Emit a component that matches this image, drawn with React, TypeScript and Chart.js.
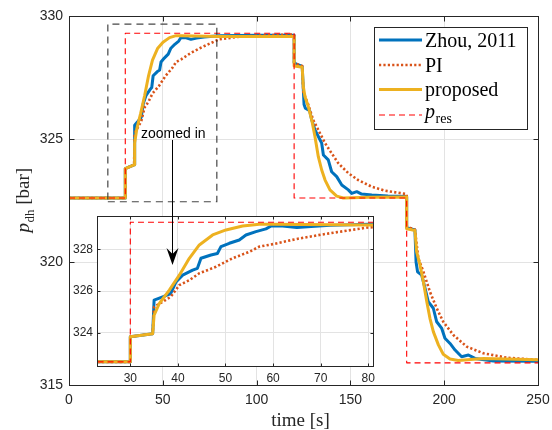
import React, { useEffect, useRef } from 'react';
import { Chart, registerables } from 'chart.js';

Chart.register(...registerables);

// ---------------- data ----------------
const zhouTime = [0, 30, 30, 34.7, 35, 36.8, 38.5, 39.6, 41.0, 43.1, 44.1, 44.85, 46.95, 48.3, 49.05, 50.8, 52.9, 54.3, 56.4, 58.5, 59.6, 62, 65, 68, 72, 80, 100, 120, 120, 122, 124.3, 125.3, 126, 128.3, 129.4, 131.1, 132.9, 134.7, 135.6, 138.2, 140, 142.7, 145.4, 148.9, 150.7, 153.4, 156, 161.4, 170, 180, 180, 182, 184.4, 185, 185.8, 188, 189.8, 191.5, 194.2, 196, 198.7, 200.4, 203.1, 205.8, 209.3, 212.9, 216.4, 226.2, 250];
const zhouPressure = [322.6, 322.6, 323.8, 323.95, 325.56, 325.72, 325.88, 326.44, 326.76, 327.0, 327.09, 327.57, 327.73, 327.8, 328.13, 328.29, 328.45, 328.69, 328.85, 328.98, 329.12, 329.12, 329.05, 329.1, 329.15, 329.2, 329.22, 329.22, 328.1, 328.02, 327.95, 326.4, 326.25, 326.15, 325.77, 325.37, 325.1, 324.83, 324.35, 324.15, 323.67, 323.47, 323.13, 322.93, 322.79, 322.86, 322.76, 322.72, 322.68, 322.66, 321.4, 321.35, 321.3, 320.0, 319.6, 319.47, 318.93, 318.39, 318.12, 317.57, 317.3, 316.9, 316.69, 316.42, 316.15, 316.22, 316.08, 315.98, 315.97];

const piTime = [0, 30, 30, 34.7, 35, 36.8, 38.5, 40.3, 42.4, 44.5, 48, 51.5, 55, 57.1, 60, 65, 70, 75, 80, 90, 100, 120, 120, 122, 124.3, 124.9, 127.6, 130.2, 132.9, 136.5, 140, 143.6, 148.9, 154.2, 161.4, 168.4, 180, 180, 182, 184.4, 186.2, 188.9, 192.4, 196, 199.5, 204.9, 212, 220.9, 233.3, 250];
const piPressure = [322.6, 322.6, 323.8, 323.95, 325.24, 325.48, 325.72, 326.28, 326.52, 326.85, 327.16, 327.57, 327.88, 328.13, 328.25, 328.5, 328.7, 328.88, 329.05, 329.15, 329.2, 329.25, 328.12, 328.03, 327.97, 326.92, 326.38, 325.77, 325.37, 324.83, 324.42, 324.01, 323.61, 323.33, 323.06, 322.9, 322.76, 321.45, 321.38, 321.32, 320.15, 319.61, 318.79, 318.12, 317.57, 317.03, 316.56, 316.29, 316.11, 316.02];

const proposedTime = [0, 30, 30, 34.7, 35, 36.1, 38.2, 40.3, 42.4, 44.5, 47.3, 50.1, 53.6, 57.1, 60, 80, 100, 120, 120, 122, 124.3, 124.9, 125.8, 127.6, 129.4, 131.1, 132.9, 134.7, 136.5, 139.1, 142.7, 146.2, 160, 180, 180, 182, 184.4, 185.3, 187.1, 188.9, 190.7, 192.4, 194.2, 196.9, 199.5, 203.1, 207.5, 220.9, 250];
const proposedPressure = [322.6, 322.6, 323.8, 323.95, 324.84, 325.4, 326.04, 326.76, 327.57, 328.21, 328.69, 328.93, 329.12, 329.2, 329.2, 329.17, 329.17, 329.17, 327.97, 327.95, 327.92, 327.13, 326.72, 326.31, 325.77, 325.1, 324.28, 323.74, 323.33, 322.93, 322.68, 322.6, 322.63, 322.64, 321.35, 321.32, 321.28, 320.42, 319.88, 319.2, 318.39, 317.71, 317.17, 316.63, 316.25, 316.06, 316.0, 316.08, 316.03];

const refTime = [0, 30, 30, 120, 120, 180, 180, 250];
const refPressure = [322.6, 322.6, 329.3, 329.3, 322.6, 322.6, 315.9, 315.9];

const zoomBoxTime = [20.7, 78.8, 78.8, 20.7, 20.7];
const zoomBoxPressure = [322.45, 322.45, 329.67, 329.67, 322.45];

const mainTimeTicks = [0, 50, 100, 150, 200, 250];
const mainPressureTicks = [315, 320, 325, 330];
const insetTimeTicks = [30, 40, 50, 60, 70, 80];
const insetPressureTicks = [324, 326, 328];

const legendLabels = ['Zhou, 2011', 'PI', 'proposed', 'p_res'];

const mainRange = { xMin: 0, xMax: 250, yMin: 315, yMax: 330 };
const insetRange = { xMin: 23, xMax: 81, yMin: 322.4, yMax: 329.6 };
const annotationText = 'zoomed in';
const annotationPos = { textT: 38.4, textP: 325.06, arrowT: 55, arrowFromP: 324.96, arrowToP: 319.88 };

// ---------------- styles ----------------
const STYLES = [
  { color: '#0072BD', width: 3, dash: [] as number[] },
  { color: '#D95319', width: 2.6, dash: [2.2, 2.2] },
  { color: '#EDB120', width: 3, dash: [] as number[] },
  { color: '#FF0000', width: 1.1, dash: [6, 4] },
];
const AXIS = '#262626';
const GRID = '#E3E3E3';
const INSET_LEFT = 56;
const INSET_TOP = 120;

const pts = (t: number[], p: number[]) => t.map((x, i) => ({ x, y: p[i] }));

function buildDatasets(includeBox: boolean) {
  const series = [
    { data: pts(zhouTime, zhouPressure), s: STYLES[0], order: 4 },
    { data: pts(piTime, piPressure), s: STYLES[1], order: 3 },
    { data: pts(proposedTime, proposedPressure), s: STYLES[2], order: 2 },
    { data: pts(refTime, refPressure), s: STYLES[3], order: 1 },
  ];
  const ds: any[] = series.map(({ data, s, order }) => ({
    data,
    borderColor: s.color,
    borderWidth: s.width,
    borderDash: s.dash,
    borderCapStyle: 'butt',
    borderJoinStyle: 'round',
    pointRadius: 0,
    fill: false,
    tension: 0,
    order,
  }));
  if (includeBox) {
    ds.push({
      data: pts(zoomBoxTime, zoomBoxPressure),
      borderColor: 'rgba(38,38,38,0.85)',
      borderWidth: 1.2,
      borderDash: [7, 5],
      pointRadius: 0,
      fill: false,
      tension: 0,
      order: 0,
    });
  }
  return ds;
}

function scaleCfg(min: number, max: number, ticks: number[], fontSize: number, padding: number, fit: (s: any) => void) {
  return {
    type: 'linear',
    min,
    max,
    afterBuildTicks: (s: any) => {
      s.ticks = ticks.map((v) => ({ value: v }));
    },
    afterFit: fit,
    grid: { color: GRID, lineWidth: 1, drawTicks: false },
    border: { display: false },
    ticks: {
      color: AXIS,
      font: { family: 'Liberation Sans', size: fontSize },
      padding,
      autoSkip: false,
      maxRotation: 0,
    },
  };
}

const fitX = (h: number) => (s: any) => {
  s.height = h;
  s.paddingLeft = 0;
  s.paddingRight = 0;
};
const fitY = (w: number) => (s: any) => {
  s.width = w;
  s.paddingTop = 0;
  s.paddingBottom = 0;
};

function drawFrame(ctx: CanvasRenderingContext2D, a: any, xs: any, ys: any, xt: number[], yt: number[], len: number) {
  ctx.save();
  ctx.strokeStyle = AXIS;
  ctx.lineWidth = 1;
  ctx.setLineDash([]);
  const L = Math.floor(a.left) + 0.5;
  const R = Math.floor(a.right) + 0.5;
  const T = Math.floor(a.top) + 0.5;
  const B = Math.floor(a.bottom) + 0.5;
  ctx.beginPath();
  xt.forEach((v) => {
    const X = Math.round(xs.getPixelForValue(v)) + 0.5;
    ctx.moveTo(X, B);
    ctx.lineTo(X, B - len);
    ctx.moveTo(X, T);
    ctx.lineTo(X, T + len);
  });
  yt.forEach((v) => {
    const Y = Math.round(ys.getPixelForValue(v)) + 0.5;
    ctx.moveTo(L, Y);
    ctx.lineTo(L + len, Y);
    ctx.moveTo(R, Y);
    ctx.lineTo(R - len, Y);
  });
  ctx.stroke();
  ctx.strokeRect(L, T, R - L, B - T);
  ctx.restore();
}

function drawSubscripted(ctx: CanvasRenderingContext2D, base: string, sub: string, rest: string, x: number, y: number, size: number, subSize: number, center: boolean) {
  const fBase = `italic ${size}px "Liberation Serif"`;
  const fSub = `${subSize}px "Liberation Serif"`;
  const fRest = `${size}px "Liberation Serif"`;
  ctx.font = fBase;
  const w1 = ctx.measureText(base).width;
  ctx.font = fSub;
  const w2 = ctx.measureText(sub).width;
  ctx.font = fRest;
  const w3 = rest ? ctx.measureText(rest).width : 0;
  let cx = center ? x - (w1 + w2 + w3) / 2 : x;
  ctx.textAlign = 'left';
  ctx.textBaseline = 'alphabetic';
  ctx.font = fBase;
  ctx.fillText(base, cx, y);
  cx += w1 + 0.5;
  ctx.font = fSub;
  ctx.fillText(sub, cx, y + size * 0.24);
  cx += w2;
  if (rest) {
    ctx.font = fRest;
    ctx.fillText(rest, cx, y);
  }
}

const mainDecor = {
  id: 'mainDecor',
  afterDatasetsDraw(chart: any) {
    drawFrame(chart.ctx, chart.chartArea, chart.scales.x, chart.scales.y, mainTimeTicks, mainPressureTicks, 5);
  },
  afterDraw(chart: any) {
    const ctx: CanvasRenderingContext2D = chart.ctx;
    const a = chart.chartArea;
    ctx.save();
    // x label
    ctx.fillStyle = AXIS;
    ctx.font = '19px "Liberation Serif"';
    ctx.textAlign = 'center';
    ctx.textBaseline = 'middle';
    ctx.fillText('time [s]', (a.left + a.right) / 2 - 3, 421);
    // y label
    ctx.save();
    ctx.translate(29, (a.top + a.bottom) / 2);
    ctx.rotate(-Math.PI / 2);
    drawSubscripted(ctx, 'p', 'dh', ' [bar]', 0, 0, 19, 13, true);
    ctx.restore();

    // legend
    const lx0 = 374.5, ly0 = 27.5, lx1 = 527.5, ly1 = 129.5;
    ctx.fillStyle = '#ffffff';
    ctx.fillRect(lx0, ly0, lx1 - lx0, ly1 - ly0);
    ctx.strokeStyle = AXIS;
    ctx.lineWidth = 1;
    ctx.setLineDash([]);
    ctx.strokeRect(lx0, ly0, lx1 - lx0, ly1 - ly0);
    const rows = [40, 65, 89.5, 115];
    legendLabels.forEach((label, i) => {
      const s = STYLES[i];
      const y = rows[i];
      ctx.save();
      ctx.strokeStyle = s.color;
      ctx.lineWidth = s.width;
      ctx.setLineDash(s.dash);
      ctx.lineCap = 'butt';
      ctx.beginPath();
      ctx.moveTo(379, y);
      ctx.lineTo(422, y);
      ctx.stroke();
      ctx.restore();
      ctx.fillStyle = '#000';
      if (label.includes('_')) {
        const [b, sub] = label.split('_');
        drawSubscripted(ctx, b, sub, '', 425, y + 3, 20, 14, false);
      } else {
        ctx.font = '20px "Liberation Serif"';
        ctx.textAlign = 'left';
        ctx.textBaseline = 'alphabetic';
        ctx.fillText(label, 425, y + 6.5);
      }
    });
    ctx.restore();
  },
};

function makeInsetDecor(getMain: () => any) {
  return {
    id: 'insetDecor',
    beforeDraw(chart: any) {
      const a = chart.chartArea;
      const ctx = chart.ctx;
      ctx.save();
      ctx.fillStyle = '#ffffff';
      ctx.fillRect(a.left, a.top, a.right - a.left, a.bottom - a.top);
      ctx.restore();
    },
    afterDatasetsDraw(chart: any) {
      drawFrame(chart.ctx, chart.chartArea, chart.scales.x, chart.scales.y, insetTimeTicks, insetPressureTicks, 3);
    },
    afterDraw(chart: any) {
      const main = getMain();
      if (!main) return;
      const ctx: CanvasRenderingContext2D = chart.ctx;
      const xs = main.scales.x;
      const ys = main.scales.y;
      ctx.save();
      ctx.translate(-INSET_LEFT, -INSET_TOP);
      ctx.fillStyle = '#000';
      ctx.font = '14px "Liberation Sans"';
      ctx.textAlign = 'left';
      ctx.textBaseline = 'alphabetic';
      ctx.fillText(annotationText, xs.getPixelForValue(annotationPos.textT), ys.getPixelForValue(annotationPos.textP));
      const ax = Math.round(xs.getPixelForValue(annotationPos.arrowT)) + 0.5;
      const y0 = ys.getPixelForValue(annotationPos.arrowFromP);
      const y1 = ys.getPixelForValue(annotationPos.arrowToP);
      ctx.strokeStyle = '#000';
      ctx.lineWidth = 1;
      ctx.beginPath();
      ctx.moveTo(ax, y0);
      ctx.lineTo(ax, y1 - 10);
      ctx.stroke();
      ctx.beginPath();
      ctx.moveTo(ax, y1);
      ctx.lineTo(ax - 6, y1 - 17);
      ctx.lineTo(ax, y1 - 11);
      ctx.lineTo(ax + 6, y1 - 17);
      ctx.closePath();
      ctx.fill();
      ctx.restore();
    },
  };
}

export default function App() {
  const mainRef = useRef<HTMLCanvasElement>(null);
  const insetRef = useRef<HTMLCanvasElement>(null);

  useEffect(() => {
    let main: any = null;
    main = new Chart(mainRef.current as HTMLCanvasElement, {
      type: 'line',
      data: { datasets: buildDatasets(true) },
      options: {
        responsive: false,
        animation: false,
        devicePixelRatio: 1,
        events: [],
        layout: { padding: { left: 0, top: 16, right: 14, bottom: 0 } },
        plugins: { legend: { display: false }, tooltip: { enabled: false } },
        scales: {
          x: scaleCfg(mainRange.xMin, mainRange.xMax, mainTimeTicks, 14, 7, fitX(45)),
          y: scaleCfg(mainRange.yMin, mainRange.yMax, mainPressureTicks, 14, 6, fitY(69)),
        },
      } as any,
      plugins: [mainDecor],
    } as any);

    const inset = new Chart(insetRef.current as HTMLCanvasElement, {
      type: 'line',
      data: { datasets: buildDatasets(false) },
      options: {
        responsive: false,
        animation: false,
        devicePixelRatio: 1,
        events: [],
        layout: { padding: { left: 0, top: 96, right: 7, bottom: 0 } },
        plugins: { legend: { display: false }, tooltip: { enabled: false } },
        scales: {
          x: scaleCfg(insetRange.xMin, insetRange.xMax, insetTimeTicks, 12, 5, fitX(30)),
          y: scaleCfg(insetRange.yMin, insetRange.yMax, insetPressureTicks, 12, 4, fitY(41)),
        },
      } as any,
      plugins: [makeInsetDecor(() => main)],
    } as any);

    return () => {
      inset.destroy();
      main.destroy();
    };
  }, []);

  return (
    <div style={{ position: 'absolute', left: 0, top: 0, width: 552, height: 430, background: '#fff' }}>
      <canvas ref={mainRef} width={552} height={430} style={{ position: 'absolute', left: 0, top: 0, width: 552, height: 430 }} />
      <canvas ref={insetRef} width={324} height={276} style={{ position: 'absolute', left: INSET_LEFT, top: INSET_TOP, width: 324, height: 276 }} />
    </div>
  );
}
